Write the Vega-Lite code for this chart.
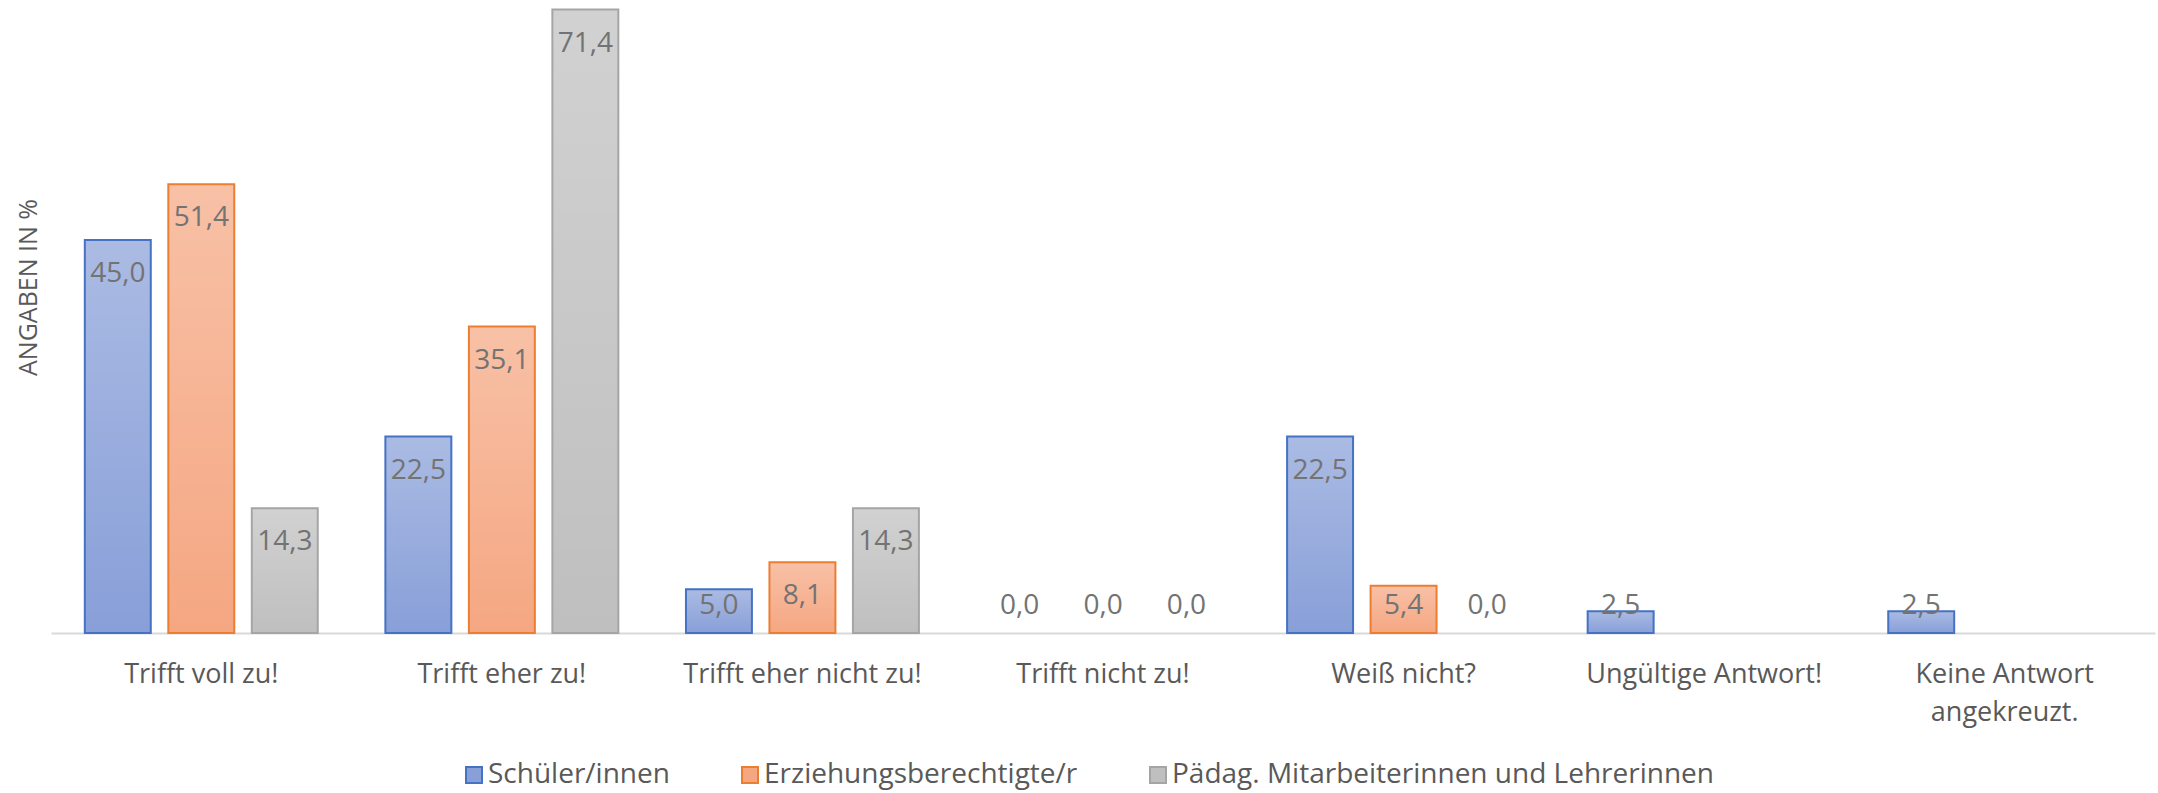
{
  "$schema": "https://vega.github.io/schema/vega-lite/v6.json",
  "width": 2104,
  "height": 633,
  "autosize": {"type": "none"},
  "padding": {"left": 51, "top": 0, "right": 3, "bottom": 160},
  "config": {
    "view": {"stroke": null},
    "font": "Open Sans",
    "legend": {
      "orient": "none",
      "legendX": 409,
      "legendY": 761,
      "direction": "horizontal",
      "symbolType": "square",
      "symbolSize": 256,
      "symbolStrokeWidth": 2,
      "labelFontSize": 28,
      "labelColor": "#595959",
      "labelLimit": 1000,
      "columnPadding": 66,
      "labelOffset": 0
    }
  },
  "data": {
    "values": [
      {"cat": "Trifft voll zu!", "grp": "Schüler/innen", "value": 45.0},
      {"cat": "Trifft voll zu!", "grp": "Erziehungsberechtigte/r", "value": 51.4},
      {"cat": "Trifft voll zu!", "grp": "Pädag. Mitarbeiterinnen und Lehrerinnen", "value": 14.3},
      {"cat": "Trifft eher zu!", "grp": "Schüler/innen", "value": 22.5},
      {"cat": "Trifft eher zu!", "grp": "Erziehungsberechtigte/r", "value": 35.1},
      {"cat": "Trifft eher zu!", "grp": "Pädag. Mitarbeiterinnen und Lehrerinnen", "value": 71.4},
      {"cat": "Trifft eher nicht zu!", "grp": "Schüler/innen", "value": 5.0},
      {"cat": "Trifft eher nicht zu!", "grp": "Erziehungsberechtigte/r", "value": 8.1},
      {"cat": "Trifft eher nicht zu!", "grp": "Pädag. Mitarbeiterinnen und Lehrerinnen", "value": 14.3},
      {"cat": "Trifft nicht zu!", "grp": "Schüler/innen", "value": 0.0},
      {"cat": "Trifft nicht zu!", "grp": "Erziehungsberechtigte/r", "value": 0.0},
      {"cat": "Trifft nicht zu!", "grp": "Pädag. Mitarbeiterinnen und Lehrerinnen", "value": 0.0},
      {"cat": "Weiß nicht?", "grp": "Schüler/innen", "value": 22.5},
      {"cat": "Weiß nicht?", "grp": "Erziehungsberechtigte/r", "value": 5.4},
      {"cat": "Weiß nicht?", "grp": "Pädag. Mitarbeiterinnen und Lehrerinnen", "value": 0.0},
      {"cat": "Ungültige Antwort!", "grp": "Schüler/innen", "value": 2.5},
      {"cat": "Keine Antwort angekreuzt.", "grp": "Schüler/innen", "value": 2.5}
    ]
  },
  "encoding": {
    "x": {
      "field": "cat",
      "type": "nominal",
      "sort": ["Trifft voll zu!", "Trifft eher zu!", "Trifft eher nicht zu!", "Trifft nicht zu!", "Weiß nicht?", "Ungültige Antwort!", "Keine Antwort angekreuzt."],
      "scale": {"paddingInner": 0.225, "paddingOuter": 0.1125},
      "axis": {
        "title": null,
        "domain": true,
        "domainColor": "#d9d9d9",
        "domainWidth": 2,
        "ticks": false,
        "labelAngle": 0,
        "labelFontSize": 27,
        "labelColor": "#595959",
        "labelPadding": 28,
        "labelLineHeight": 38,
        "labelLimit": 500,
        "labelOverlap": false,
        "labelExpr": "datum.label == 'Keine Antwort angekreuzt.' ? ['Keine Antwort', 'angekreuzt.'] : datum.label"
      }
    },
    "xOffset": {
      "field": "grp",
      "type": "nominal",
      "scale": {
        "domain": ["Schüler/innen", "Erziehungsberechtigte/r", "Pädag. Mitarbeiterinnen und Lehrerinnen"],
        "paddingInner": 0.21,
        "paddingOuter": 0
      }
    }
  },
  "layer": [
    {
      "transform": [{"filter": "datum.value > 0"}],
      "mark": {"type": "bar", "strokeWidth": 0},
      "encoding": {
        "y": {
          "field": "value",
          "type": "quantitative",
          "scale": {"domain": [0, 72.5], "nice": false},
          "axis": {
            "title": "ANGABEN IN %",
            "labels": false,
            "ticks": false,
            "domain": false,
            "grid": false,
            "titleFontSize": 25,
            "titleFontWeight": "normal",
            "titleColor": "#595959",
            "titleX": -23,
            "titleY": 287,
            "titleBaseline": "middle",
            "titleAlign": "center"
          }
        },
        "fill": {
          "field": "grp",
          "type": "nominal",
          "title": null,
          "scale": {
            "domain": ["Schüler/innen", "Erziehungsberechtigte/r", "Pädag. Mitarbeiterinnen und Lehrerinnen"],
            "range": ["#889fd8", "#f5a782", "#bfbfbf"]
          }
        },
        "stroke": {
          "field": "grp",
          "type": "nominal",
          "title": null,
          "scale": {
            "domain": ["Schüler/innen", "Erziehungsberechtigte/r", "Pädag. Mitarbeiterinnen und Lehrerinnen"],
            "range": ["#4472c4", "#ed7d31", "#a5a5a5"]
          }
        }
      }
    },
    {
      "transform": [{"filter": "datum.value > 0"}],
      "mark": {
        "type": "bar",
        "strokeWidth": 2,
        "fill": {"gradient": "linear", "x1": 0, "y1": 0, "x2": 0, "y2": 1, "stops": [{"offset": 0, "color": "rgba(255,255,255,0.29)"}, {"offset": 1, "color": "rgba(255,255,255,0)"}]}
      },
      "encoding": {
        "y": {"field": "value", "type": "quantitative"},
        "stroke": {"field": "grp", "type": "nominal", "title": null}
      }
    },
    {
      "transform": [
        {"calculate": "max(datum.value, 7)", "as": "ly"},
        {"calculate": "replace(format(datum.value, '.1f'), '.', ',')", "as": "lbl"}
      ],
      "mark": {"type": "text", "dy": 34, "fontSize": 28, "color": "#737373", "baseline": "middle"},
      "encoding": {
        "y": {"field": "ly", "type": "quantitative"},
        "text": {"field": "lbl", "type": "nominal"}
      }
    }
  ]
}
